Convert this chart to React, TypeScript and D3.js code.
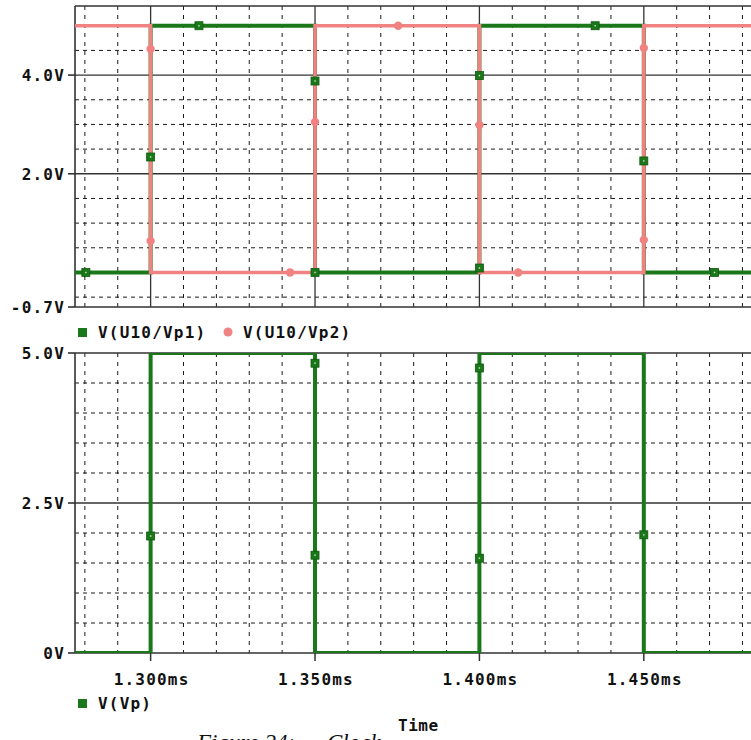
import React from 'react';
import * as d3 from 'd3';

// ---------- data ----------
const majorTimes = [1.3, 1.35, 1.4, 1.45];
const timeTickLabels = ['1.300ms', '1.350ms', '1.400ms', '1.450ms'];
const minorTimes = [1.28, 1.29, 1.31, 1.32, 1.33, 1.34, 1.36, 1.37, 1.38, 1.39, 1.41, 1.42, 1.43, 1.44, 1.46, 1.47, 1.48];

const topLabelValues = [-0.7, 2.0, 4.0];
const topLabels = ['-0.7V', '2.0V', '4.0V'];
const topMajorGrid = [0, 2, 4];
const topMinorGrid = [-0.5, 0.5, 1, 1.5, 2.5, 3, 3.5, 4.5, 5.0];

const botLabelValues = [0, 2.5, 5.0];
const botLabels = ['0V', '2.5V', '5.0V'];
const botMajorGrid = [2.5];
const botMinorGrid = [0.5, 1, 1.5, 2, 3, 3.5, 4, 4.5];

// step traces (time in ms, value in V)
const stepTimes = [1.277, 1.3, 1.3, 1.35, 1.35, 1.4, 1.4, 1.45, 1.45, 1.5];
const vp1Values = [0, 0, 5, 5, 0, 0, 5, 5, 0, 0];
const vp2Values = [5, 5, 0, 0, 5, 5, 0, 0, 5, 5];
const vpValues = [0, 0, 5, 5, 0, 0, 5, 5, 0, 0];

// markers
const vp1MarkT = [1.2803, 1.3, 1.3147, 1.35, 1.35, 1.4, 1.4, 1.4352, 1.45, 1.4715];
const vp1MarkV = [0, 2.34, 5.0, 3.88, 0, 3.99, 0.09, 5.0, 2.26, 0];
const vp2MarkT = [1.3, 1.3, 1.3424, 1.35, 1.3753, 1.4, 1.4118, 1.45, 1.45];
const vp2MarkV = [4.53, 0.64, 0, 3.05, 5.0, 2.99, 0, 4.55, 0.66];
const vpMarkT = [1.3, 1.35, 1.35, 1.4, 1.4, 1.45];
const vpMarkV = [1.95, 4.83, 1.63, 4.75, 1.58, 1.97];

// ---------- styles ----------
const GREEN = '#1a781a';
const RED = '#f08282';
const GRID = '#1a1a1a';
const FONT = '"DejaVu Sans Mono", monospace';

export default function App() {
  const W = 751, H = 740;
  const left = 75;
  const x = d3.scaleLinear().domain([1.277, 1.4826]).range([left, 751]);
  const xEnd = 800;
  const yTop = d3.scaleLinear().domain([-0.7, 5.4]).range([307, 6]);
  const yBot = d3.scaleLinear().domain([0, 5]).range([653, 353]);

  const line = (ys: d3.ScaleLinear<number, number>) =>
    d3.line<number>().x((_, i) => x(stepTimes[i])).y((d) => ys(d));

  const Square = ({ cx, cy }: { cx: number; cy: number }) => (
    <g>
      <rect x={cx - 4} y={cy - 4} width={8} height={8} fill={GREEN} stroke="#0f5a0f" strokeWidth={0.8} />
      <rect x={cx - 0.7} y={cy - 0.7} width={1.4} height={1.4} fill="#cfe8cf" />
    </g>
  );
  const Circle = ({ cx, cy }: { cx: number; cy: number }) => (
    <circle cx={cx} cy={cy} r={4.2} fill={RED} />
  );

  const panel = (
    ys: d3.ScaleLinear<number, number>,
    major: number[],
    minor: number[],
    labVals: number[],
    labs: string[],
    id: string
  ) => {
    const [y0, y1] = ys.range() as [number, number]; // bottom, top
    return (
      <g>
        <clipPath id={id}>
          <rect x={left} y={y1} width={xEnd - left} height={y0 - y1} />
        </clipPath>
        {minor.map((v) => (
          <line key={'mh' + v} x1={left} x2={xEnd} y1={ys(v)} y2={ys(v)} stroke={GRID} strokeWidth={1} strokeDasharray="4,4" />
        ))}
        {minorTimes.map((t) => (
          <line key={'mv' + t} x1={x(t)} x2={x(t)} y1={y1} y2={y0} stroke={GRID} strokeWidth={1} strokeDasharray="4,5" />
        ))}
        {major.map((v) => (
          <line key={'Mh' + v} x1={left} x2={xEnd} y1={ys(v)} y2={ys(v)} stroke="#333" strokeWidth={1.3} />
        ))}
        {majorTimes.map((t) => (
          <line key={'Mv' + t} x1={x(t)} x2={x(t)} y1={y1} y2={y0} stroke="#333" strokeWidth={1.3} />
        ))}
        <line x1={left} x2={xEnd} y1={y1} y2={y1} stroke="#333" strokeWidth={1.6} />
        <line x1={left} x2={xEnd} y1={y0} y2={y0} stroke="#333" strokeWidth={1.6} />
        <line x1={left} x2={left} y1={y1} y2={y0} stroke="#333" strokeWidth={1.6} />
        {labVals.map((v, i) => (
          <g key={'yl' + v}>
            <line x1={68} x2={left} y1={ys(v)} y2={ys(v)} stroke="#333" strokeWidth={1.6} />
            <text x={65} y={ys(v) + 6} textAnchor="end" fontFamily={FONT} fontWeight="bold" fontSize={16} letterSpacing={1.2} fill="#111">
              {labs[i]}
            </text>
          </g>
        ))}
      </g>
    );
  };

  return (
    <svg width={W} height={H} style={{ position: 'absolute', left: 0, top: 0, background: '#fff' }}>
      <rect x={0} y={0} width={W} height={H} fill="#fff" />
      {panel(yTop, topMajorGrid, topMinorGrid, topLabelValues, topLabels, 'clipTop')}
      {panel(yBot, botMajorGrid, botMinorGrid, botLabelValues, botLabels, 'clipBot')}

      <g clipPath="url(#clipTop)">
        <path d={line(yTop)(vp1Values) || ''} fill="none" stroke={GREEN} strokeWidth={4} />
        <path d={line(yTop)(vp2Values) || ''} fill="none" stroke={RED} strokeWidth={3.6} />
        {vp2MarkT.map((t, i) => (
          <Circle key={'c' + i} cx={x(t)} cy={yTop(vp2MarkV[i])} />
        ))}
        {vp1MarkT.map((t, i) => (
          <Square key={'s' + i} cx={x(t)} cy={yTop(vp1MarkV[i])} />
        ))}
      </g>

      <g clipPath="url(#clipBot)">
        <path d={line(yBot)(vpValues) || ''} fill="none" stroke={GREEN} strokeWidth={4} />
        {vpMarkT.map((t, i) => (
          <Square key={'b' + i} cx={x(t)} cy={yBot(vpMarkV[i])} />
        ))}
      </g>

      {majorTimes.map((t, i) => (
        <g key={'xt' + t}>
          <line x1={x(t)} x2={x(t)} y1={653} y2={661} stroke="#333" strokeWidth={1.5} />
          <text x={x(t) + 1} y={685} textAnchor="middle" fontFamily={FONT} fontWeight="bold" fontSize={16} letterSpacing={1.2} fill="#111">
            {timeTickLabels[i]}
          </text>
        </g>
      ))}

      <rect x={78} y={328} width={9} height={9} fill={GREEN} />
      <text x={98} y={338} fontFamily={FONT} fontWeight="bold" fontSize={16} letterSpacing={1.2} fill="#111">V(U10/Vp1)</text>
      <circle cx={228} cy={332} r={4.5} fill={RED} />
      <text x={243} y={338} fontFamily={FONT} fontWeight="bold" fontSize={16} letterSpacing={1.2} fill="#111">V(U10/Vp2)</text>

      <rect x={78} y={699} width={9} height={9} fill={GREEN} />
      <text x={98} y={709} fontFamily={FONT} fontWeight="bold" fontSize={16} letterSpacing={1.2} fill="#111">V(Vp)</text>

      <text x={398} y={731} fontFamily={FONT} fontWeight="bold" fontSize={16} letterSpacing={0.5} fill="#111">Time</text>

      <text x={197} y={750} fontFamily='"Liberation Serif", "Times New Roman", serif' fontStyle="italic" fontSize={23} fill="#111">
        Figure 24:<tspan x={327}>Clock</tspan>
      </text>
    </svg>
  );
}
